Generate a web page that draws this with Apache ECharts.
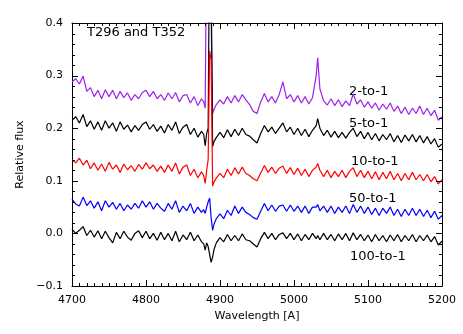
<!DOCTYPE html>
<html>
<head>
<meta charset="utf-8">
<script src="https://cdn.jsdelivr.net/npm/echarts@6/dist/echarts.min.js"></script>
<style>
  html, body { margin: 0; padding: 0; background: #fff; }
  #main { width: 463px; height: 334px; }
</style>
</head>
<body>
<div id="main"></div>
<script>
// wavelength grid [A], denser round the 4886 feature and the 5032 line
const wl = [
  4700, 4705, 4710, 4715, 4720, 4725, 4730, 4735, 4740, 4745,
  4750, 4755, 4760, 4765, 4770, 4775, 4780, 4785, 4790, 4795,
  4800, 4805, 4810, 4815, 4820, 4825, 4830, 4835, 4840, 4845,
  4850, 4855, 4860, 4865, 4870, 4875,
  4878, 4880, 4882, 4884, 4886, 4888, 4890, 4892,
  4895, 4900, 4905, 4910, 4915, 4920, 4925, 4930, 4935, 4940,
  4945, 4950, 4955, 4960, 4965, 4970, 4975, 4980, 4985, 4990,
  4995, 5000, 5005, 5010, 5015, 5020, 5025, 5030,
  5032,
  5035, 5040, 5045, 5050, 5055, 5060, 5065, 5070, 5075, 5080,
  5085, 5090, 5095, 5100, 5105, 5110, 5115, 5120, 5125, 5130,
  5135, 5140, 5145, 5150, 5155, 5160, 5165, 5170, 5175, 5180,
  5185, 5190, 5195, 5200
];

// 2-to-1 (purple)
const flux2 = [
  0.288, 0.294, 0.284, 0.299, 0.270, 0.277, 0.260, 0.272, 0.256, 0.273,
  0.260, 0.272, 0.256, 0.270, 0.258, 0.267, 0.253, 0.264, 0.256, 0.268,
  0.272, 0.260, 0.270, 0.256, 0.264, 0.253, 0.267, 0.256, 0.268, 0.250,
  0.262, 0.264, 0.248, 0.260, 0.243, 0.256,
  0.250, 0.238, 0.600, 0.600, 0.600, 0.600, 0.228, 0.236,
  0.245, 0.254, 0.246, 0.260, 0.248, 0.262, 0.250, 0.264, 0.254, 0.245,
  0.232, 0.228, 0.250, 0.266, 0.250, 0.260, 0.248, 0.264, 0.288, 0.256,
  0.264, 0.250, 0.262, 0.248, 0.260, 0.246, 0.258, 0.300,
  0.334,
  0.275, 0.252, 0.244, 0.256, 0.243, 0.254, 0.241, 0.252, 0.243, 0.265,
  0.246, 0.254, 0.240, 0.250, 0.238, 0.248, 0.234, 0.246, 0.236, 0.248,
  0.232, 0.242, 0.228, 0.240, 0.226, 0.238, 0.228, 0.242, 0.226, 0.238,
  0.224, 0.234, 0.215, 0.222
];

// 5-to-1 (black)
const flux5 = [
  0.215, 0.222, 0.210, 0.226, 0.203, 0.214, 0.198, 0.212, 0.196, 0.214,
  0.200, 0.210, 0.194, 0.212, 0.198, 0.206, 0.193, 0.205, 0.196, 0.207,
  0.212, 0.198, 0.207, 0.194, 0.204, 0.191, 0.207, 0.196, 0.212, 0.190,
  0.202, 0.207, 0.188, 0.200, 0.183, 0.194,
  0.188, 0.167, 0.190, 0.200, 0.600, 0.500, 0.165, 0.175,
  0.182, 0.192, 0.182, 0.197, 0.184, 0.198, 0.186, 0.200, 0.188, 0.185,
  0.178, 0.172, 0.190, 0.205, 0.193, 0.202, 0.190, 0.200, 0.210, 0.193,
  0.202, 0.188, 0.200, 0.186, 0.198, 0.184, 0.196, 0.205,
  0.218,
  0.200, 0.186, 0.196, 0.183, 0.194, 0.182, 0.192, 0.181, 0.192, 0.200,
  0.184, 0.194, 0.180, 0.192, 0.178, 0.190, 0.176, 0.188, 0.178, 0.190,
  0.174, 0.186, 0.173, 0.187, 0.176, 0.188, 0.174, 0.186, 0.172, 0.184,
  0.170, 0.180, 0.164, 0.170
];

// 10-to-1 (red)
const flux10 = [
  0.140, 0.134, 0.143, 0.130, 0.139, 0.123, 0.134, 0.120, 0.132, 0.118,
  0.135, 0.122, 0.130, 0.116, 0.132, 0.121, 0.129, 0.118, 0.131, 0.122,
  0.134, 0.123, 0.130, 0.118, 0.128, 0.116, 0.130, 0.118, 0.134, 0.113,
  0.126, 0.130, 0.110, 0.122, 0.106, 0.117,
  0.110, 0.095, 0.120, 0.140, 0.347, 0.330, 0.090, 0.098,
  0.105, 0.114, 0.106, 0.122, 0.110, 0.125, 0.113, 0.126, 0.114, 0.110,
  0.104, 0.100, 0.115, 0.129, 0.116, 0.126, 0.114, 0.124, 0.128, 0.114,
  0.125, 0.112, 0.124, 0.110, 0.122, 0.108, 0.120, 0.126,
  0.133,
  0.120, 0.108, 0.120, 0.106, 0.118, 0.108, 0.120, 0.106, 0.118, 0.125,
  0.108, 0.120, 0.106, 0.118, 0.104, 0.117, 0.102, 0.116, 0.104, 0.118,
  0.102, 0.114, 0.100, 0.114, 0.102, 0.116, 0.102, 0.112, 0.100, 0.112,
  0.098, 0.108, 0.094, 0.102
];

// 50-to-1 (blue)
const flux50 = [
  0.065, 0.056, 0.052, 0.069, 0.053, 0.062, 0.048, 0.060, 0.043, 0.062,
  0.050, 0.059, 0.046, 0.057, 0.043, 0.054, 0.046, 0.057, 0.048, 0.062,
  0.050, 0.060, 0.046, 0.057, 0.048, 0.042, 0.057, 0.046, 0.062, 0.040,
  0.052, 0.043, 0.057, 0.038, 0.050, 0.040,
  0.045, 0.038, 0.050, 0.060, 0.067, 0.030, 0.006, 0.018,
  0.028, 0.037, 0.028, 0.044, 0.034, 0.052, 0.038, 0.050, 0.040, 0.036,
  0.030, 0.027, 0.042, 0.057, 0.043, 0.054, 0.042, 0.052, 0.054, 0.042,
  0.054, 0.042, 0.052, 0.040, 0.052, 0.038, 0.050, 0.050,
  0.055,
  0.043, 0.052, 0.040, 0.052, 0.038, 0.050, 0.040, 0.052, 0.038, 0.055,
  0.040, 0.052, 0.038, 0.050, 0.036, 0.048, 0.034, 0.048, 0.038, 0.050,
  0.034, 0.046, 0.032, 0.046, 0.034, 0.048, 0.034, 0.046, 0.032, 0.044,
  0.030, 0.042, 0.027, 0.034
];

// 100-to-1 (black)
const flux100 = [
  0.008, 0.000, 0.006, 0.013, -0.004, 0.006, -0.007, 0.005, -0.010, 0.004,
  -0.008, -0.018, 0.002, -0.010, 0.004, -0.007, -0.013, 0.000, 0.005, -0.008,
  0.004, -0.010, 0.000, -0.013, 0.002, -0.012, 0.000, -0.014, 0.004, -0.016,
  -0.003, -0.012, 0.002, -0.014, -0.003, -0.016,
  -0.020, -0.032, -0.018, -0.025, -0.040, -0.055, -0.045, -0.030,
  -0.018, -0.008, -0.016, -0.002, -0.014, -0.004, -0.014, -0.001, -0.012, -0.014,
  -0.020, -0.026, -0.010, 0.002, -0.010, 0.000, -0.012, -0.002, 0.001, -0.010,
  0.000, -0.012, -0.001, -0.014, -0.002, -0.012, 0.000, -0.010,
  -0.004,
  -0.012, 0.000, -0.012, -0.002, -0.014, -0.001, -0.012, 0.000, -0.014, 0.001,
  -0.012, -0.002, -0.014, -0.003, -0.016, -0.002, -0.014, -0.004, -0.016, -0.003,
  -0.014, -0.002, -0.016, -0.004, -0.014, -0.002, -0.016, -0.004, -0.014, -0.003,
  -0.016, -0.006, -0.022, -0.015
];

const seriesNames = ['2-to-1', '5-to-1', '10-to-1', '50-to-1', '100-to-1'];
const seriesColors = ['#a020f0', '#000000', '#ff0000', '#0000ff', '#000000'];
const seriesFlux = [flux2, flux5, flux10, flux50, flux100];
const labelTops = [85, 117, 155, 192, 250];
const labelLefts = [349, 349, 351, 349, 350];

// frame ticks: kind 0 = x major, 1 = x minor, 2 = y major, 3 = y minor
const xMajor = [4700, 4800, 4900, 5000, 5100, 5200];
const yMajor = [-0.1, 0.0, 0.1, 0.2, 0.3, 0.4];
const frameTicks = [];
xMajor.forEach(v => frameTicks.push([v, 0]));
for (let i = 0; i <= 50; i++) if (i % 10) frameTicks.push([4700 + i * 10, 1]);
yMajor.forEach(v => frameTicks.push([v, 2]));
for (let i = 0; i <= 25; i++) if (i % 5) frameTicks.push([-0.1 + i * 0.02, 3]);

const font = 'DejaVu Sans';

const axisBase = (min, max, interval) => ({
  type: 'value', min: min, max: max, interval: interval,
  axisLine: { show: true, onZero: false, lineStyle: { color: '#000', width: 1 } },
  axisTick: { show: false },
  minorTick: { show: false },
  splitLine: { show: false }
});

const tickLine = (x1, y1, x2, y2) => ({
  type: 'line', silent: true,
  shape: { x1: x1, y1: y1, x2: x2, y2: y2 },
  style: { stroke: '#000', lineWidth: 1 }
});

const option = {
  animation: false,
  backgroundColor: '#fff',
  grid: { left: 72, right: 21, top: 23, bottom: 48 },
  xAxis: [
    Object.assign(axisBase(4700, 5200, 100), {
      position: 'bottom',
      axisLabel: { color: '#000', fontFamily: font, fontSize: 11, margin: 9, formatter: v => String(v) },
      name: 'Wavelength [A]', nameLocation: 'middle', nameGap: 25,
      nameTextStyle: { color: '#000', fontFamily: font, fontSize: 11 }
    }),
    Object.assign(axisBase(4700, 5200, 100), { position: 'top', axisLabel: { show: false } })
  ],
  yAxis: [
    Object.assign(axisBase(-0.1, 0.4, 0.1), {
      position: 'left',
      axisLabel: {
        color: '#000', fontFamily: font, fontSize: 11, margin: 9,
        formatter: v => (v < 0 ? '\u2212' : '') + Math.abs(v).toFixed(1)
      },
      name: 'Relative flux', nameLocation: 'middle', nameGap: 32,
      nameTextStyle: { color: '#000', fontFamily: font, fontSize: 11 }
    }),
    Object.assign(axisBase(-0.1, 0.4, 0.1), { position: 'right', axisLabel: { show: false } })
  ],
  series: seriesNames.map((name, k) => ({
    name: name,
    type: 'line',
    xAxisIndex: 0,
    yAxisIndex: 0,
    showSymbol: false,
    clip: true,
    lineStyle: { color: seriesColors[k], width: 1.2 },
    data: wl.map((w, i) => [w, seriesFlux[k][i]])
  })).concat([{
    // inward ticks on all four sides of the frame, placed by the axis scales
    type: 'custom',
    xAxisIndex: 0,
    yAxisIndex: 0,
    silent: true,
    clip: false,
    z: 5,
    data: frameTicks,
    renderItem: (params, api) => {
      const cs = params.coordSys;
      const v = api.value(0);
      const kind = api.value(1);
      const len = (kind === 0 || kind === 2) ? 6 : 3;
      if (kind < 2) {
        const px = Math.round(api.coord([v, 0])[0]) + 0.5;
        const top = cs.y, bot = cs.y + cs.height;
        return { type: 'group', children: [
          tickLine(px, bot, px, bot - len),
          tickLine(px, top, px, top + len)
        ] };
      }
      const py = Math.round(api.coord([4700, v])[1]) + 0.5;
      const left = cs.x, right = cs.x + cs.width;
      return { type: 'group', children: [
        tickLine(left, py, left + len, py),
        tickLine(right, py, right - len, py)
      ] };
    }
  }]),
  graphic: [
    {
      type: 'text', left: 87, top: 26,
      style: { text: 'T296 and T352', fill: '#000', font: '13px "DejaVu Sans"' }
    }
  ].concat(seriesNames.map((name, k) => ({
    type: 'text', left: labelLefts[k], top: labelTops[k],
    style: { text: name, fill: '#000', font: '13px "DejaVu Sans"' }
  })))
};

echarts.init(document.getElementById('main')).setOption(option);
</script>
</body>
</html>
